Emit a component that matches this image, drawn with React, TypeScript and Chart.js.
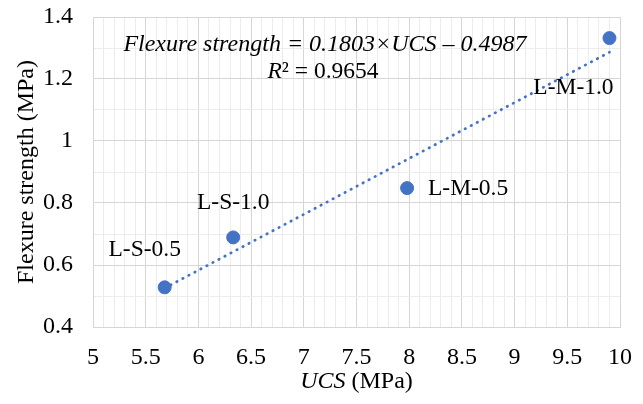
import React, { useEffect, useRef } from "react";
import { Chart, registerables } from "chart.js";

Chart.register(...registerables);

const labels = ["L-S-0.5", "L-S-1.0", "L-M-0.5", "L-M-1.0"];
const ucs = [5.68, 6.33, 7.98, 9.9];
const flexure = [0.528, 0.689, 0.848, 1.332];
const slope = 0.1803;
const intercept = -0.4987;
const r2 = "0.9654";
const xTicks = [5, 5.5, 6, 6.5, 7, 7.5, 8, 8.5, 9, 9.5, 10];
const yTicks = [0.4, 0.6, 0.8, 1, 1.2, 1.4];

const FONT = "'Liberation Serif', 'Times New Roman', serif";
const BLUE = "#4472C4";
const MAJOR = "#d6d6d6";
const MINOR = "#ececec";

const isMajor = (v: number, list: number[]) => list.some((t) => Math.abs(t - v) < 1e-6);

// label offsets (pixels) relative to each point
const labelOffsets = [
  [-20, -37],
  [0, -35],
  [61, 1],
  [-36, 50],
];

const overlayPlugin = {
  id: "overlay",
  afterDatasetsDraw(chart: any) {
    const { ctx, chartArea, scales } = chart;
    const xs = scales.x;
    const ys = scales.y;
    ctx.save();
    ctx.fillStyle = "#000";
    ctx.textBaseline = "middle";
    ctx.textAlign = "center";
    ctx.font = `23.5px ${FONT}`;
    labels.forEach((l, i) => {
      const px = xs.getPixelForValue(ucs[i]);
      const py = ys.getPixelForValue(flexure[i]);
      ctx.fillText(l, px + labelOffsets[i][0], py + labelOffsets[i][1]);
    });

    // equation
    const eq = `Flexure strength = ${slope}×UCS – ${Math.abs(intercept).toFixed(4)}`;
    ctx.font = `italic 24px ${FONT}`;
    const cx = chartArea.left + 232;
    ctx.fillText(eq, cx, chartArea.top + 28);

    // R²
    const partA = "R";
    const partB = "² = " + r2;
    ctx.font = `italic 23.5px ${FONT}`;
    const wA = ctx.measureText(partA).width;
    ctx.font = `23.5px ${FONT}`;
    const wB = ctx.measureText(partB).width;
    const startR = cx - 2 - (wA + wB) / 2;
    ctx.textAlign = "left";
    ctx.font = `italic 23.5px ${FONT}`;
    ctx.fillText(partA, startR, chartArea.top + 55);
    ctx.font = `23.5px ${FONT}`;
    ctx.fillText(partB, startR + wA, chartArea.top + 55);

    // x title
    const tA = "UCS";
    const tB = " (MPa)";
    ctx.font = `italic 24px ${FONT}`;
    const wtA = ctx.measureText(tA).width;
    ctx.font = `24px ${FONT}`;
    const wtB = ctx.measureText(tB).width;
    const mid = (chartArea.left + chartArea.right) / 2;
    const sx = mid - (wtA + wtB) / 2;
    ctx.font = `italic 24px ${FONT}`;
    ctx.fillText(tA, sx, chartArea.bottom + 55);
    ctx.font = `24px ${FONT}`;
    ctx.fillText(tB, sx + wtA, chartArea.bottom + 55);
    ctx.restore();
  },
};

export default function App() {
  const ref = useRef<HTMLCanvasElement>(null);
  useEffect(() => {
    if (!ref.current) return;
    const x0 = ucs[0];
    const x1 = ucs[ucs.length - 1];
    const chart = new Chart(ref.current, {
      type: "scatter",
      data: {
        datasets: [
          {
            type: "line",
            data: [
              { x: x0, y: slope * x0 + intercept },
              { x: x1, y: slope * x1 + intercept },
            ],
            borderColor: BLUE,
            borderWidth: 2.75,
            borderDash: [0.5, 6.3],
            borderCapStyle: "round",
            pointRadius: 0,
            fill: false,
            order: 1,
          } as any,
          {
            data: ucs.map((x, i) => ({ x, y: flexure[i] })),
            backgroundColor: BLUE,
            borderColor: BLUE,
            pointRadius: 6.5,
            pointHoverRadius: 6.5,
            order: 2,
          },
        ],
      },
      options: {
        responsive: false,
        animation: false,
        events: [],
        layout: { padding: { top: 17, right: 23, left: 0, bottom: 0 } },
        plugins: { legend: { display: false }, tooltip: { enabled: false } },
        scales: {
          x: {
            type: "linear",
            min: 5,
            max: 10,
            afterFit: (s: any) => {
              s.height = 77;
              s.paddingLeft = 0;
              s.paddingRight = 0;
            },
            ticks: {
              stepSize: 0.1,
              autoSkip: false,
              maxRotation: 0,
              padding: 16,
              color: "#000",
              font: { family: FONT, size: 24 },
              callback: (v: any) => (isMajor(Number(v), xTicks) ? String(Number(v)) : ""),
            },
            grid: {
              drawTicks: false,
              color: (c: any) => (isMajor(c.tick.value, xTicks) ? MAJOR : MINOR),
            },
            border: { display: true, color: MAJOR },
          },
          y: {
            type: "linear",
            min: 0.4,
            max: 1.4,
            afterFit: (s: any) => {
              s.width = 93;
              s.paddingTop = 0;
              s.paddingBottom = 0;
            },
            title: {
              display: true,
              text: "Flexure strength (MPa)",
              color: "#000",
              font: { family: FONT, size: 24 },
              padding: { top: 12, bottom: 0 },
            },
            ticks: {
              stepSize: 0.1,
              autoSkip: false,
              padding: 20,
              color: "#000",
              font: { family: FONT, size: 24 },
              callback: (v: any) =>
                isMajor(Number(v), yTicks) ? String(Math.round(Number(v) * 10) / 10) : "",
            },
            grid: {
              drawTicks: false,
              color: (c: any) => (isMajor(c.tick.value, yTicks) ? MAJOR : MINOR),
            },
            border: { display: true, color: MAJOR },
          },
        },
      },
      plugins: [overlayPlugin],
    });
    return () => chart.destroy();
  }, []);
  return (
    <div style={{ position: "fixed", left: 0, top: 0, width: 643, height: 404, background: "#fff" }}>
      <canvas ref={ref} width={643} height={404} style={{ width: 643, height: 404 }} />
    </div>
  );
}
